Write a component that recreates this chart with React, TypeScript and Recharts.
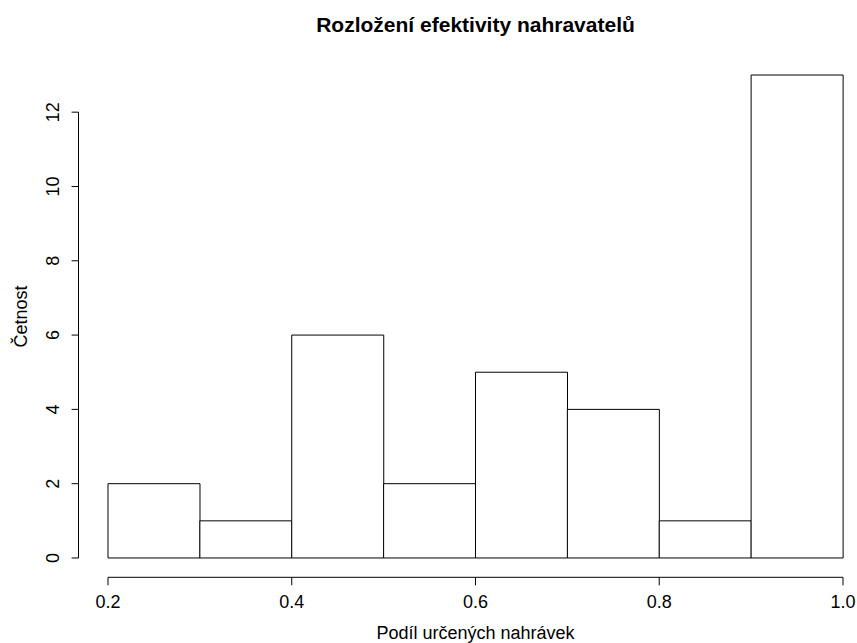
import React from 'react';
import { ComposedChart, Bar, XAxis, YAxis, ReferenceLine } from 'recharts';

// Histogram bins: midpoints and counts
const binMids = [0.25, 0.35, 0.45, 0.55, 0.65, 0.75, 0.85, 0.95];
const counts = [2, 1, 6, 2, 5, 4, 1, 13];
const xTicks = [0.2, 0.4, 0.6, 0.8, 1.0];
const yTicks = [0, 2, 4, 6, 8, 10, 12];

const title = 'Rozložení efektivity nahravatelů';
const xLabel = 'Podíl určených nahrávek';
const yLabel = 'Četnost';

const data = binMids.map((m, i) => ({ bin: String(i), mid: m, count: counts[i] }));

const FONT = '"Liberation Sans", Arial, Helvetica, sans-serif';
const X_DOMAIN: [number, number] = [0.168, 1.032];
const Y_DOMAIN: [number, number] = [-0.52, 13.52];
const MARGIN = { top: 55.7, right: 0, bottom: 35.7, left: 0 };
const CHART_H = 643;
const X_AXIS_H = 30;
const Y_AXIS_W = 78.6;
const PLOT_H = CHART_H - MARGIN.top - MARGIN.bottom - X_AXIS_H;
const PX_PER_UNIT = PLOT_H / (Y_DOMAIN[1] - Y_DOMAIN[0]);
// R draws the y axis line only between the first and last tick
const Y_LINE_TOP = MARGIN.top + (Y_DOMAIN[1] - yTicks[yTicks.length - 1]) * PX_PER_UNIT;
const Y_LINE_BOTTOM = MARGIN.top + (Y_DOMAIN[1] - yTicks[0]) * PX_PER_UNIT;

const YTick = (props: any) => {
  const { x, y, payload } = props;
  return (
    <text
      x={x}
      y={y}
      transform={`rotate(-90, ${x}, ${y})`}
      textAnchor="middle"
      fontSize={18}
      fontFamily={FONT}
      fill="#000"
    >
      {payload.value}
    </text>
  );
};

const XTick = (props: any) => {
  const { x, y, payload } = props;
  return (
    <text x={x} y={y} dy="0.71em" textAnchor="middle" fontSize={18} fontFamily={FONT} fill="#000">
      {Number(payload.value).toFixed(1)}
    </text>
  );
};

export default function App() {
  return (
    <div
      style={{
        position: 'fixed',
        left: 0,
        top: 0,
        width: 857,
        height: 643,
        overflow: 'hidden',
        background: '#fff',
      }}
    >
      <ComposedChart
        width={872.4}
        height={CHART_H}
        data={data}
        margin={MARGIN}
        barCategoryGap={0}
        barGap={0}
      >
        <XAxis
          xAxisId="bins"
          dataKey="bin"
          hide
          height={0}
          padding={{ left: 29.4, right: 29.4 }}
        />
        <XAxis
          xAxisId="num"
          dataKey="mid"
          type="number"
          scale="linear"
          domain={X_DOMAIN}
          allowDataOverflow
          ticks={xTicks}
          interval={0}
          height={X_AXIS_H}
          axisLine={false}
          tickLine={{ stroke: '#000', strokeWidth: 1 }}
          tickSize={8}
          tickMargin={10}
          tick={<XTick />}
        />
        <YAxis
          type="number"
          domain={Y_DOMAIN}
          allowDataOverflow
          ticks={yTicks}
          interval={0}
          width={Y_AXIS_W}
          axisLine={false}
          tickLine={{ stroke: '#000', strokeWidth: 1 }}
          tickSize={7}
          tickMargin={13}
          tick={<YTick />}
        />
        <Bar
          xAxisId="bins"
          dataKey="count"
          fill="#fff"
          stroke="#000"
          strokeWidth={1}
          isAnimationActive={false}
        />
        <ReferenceLine
          xAxisId="num"
          ifOverflow="visible"
          segment={[
            { x: xTicks[0], y: Y_DOMAIN[0] },
            { x: xTicks[xTicks.length - 1], y: Y_DOMAIN[0] },
          ]}
          stroke="#000"
          strokeWidth={1}
        />
      </ComposedChart>
      <svg
        width={857}
        height={643}
        style={{ position: 'absolute', left: 0, top: 0, pointerEvents: 'none' }}
      >
        <line
          x1={Y_AXIS_W - 0.1}
          y1={Y_LINE_TOP}
          x2={Y_AXIS_W - 0.1}
          y2={Y_LINE_BOTTOM}
          stroke="#000"
          strokeWidth={1}
        />
        <text x={475.5} y={31.5} textAnchor="middle" fontSize={21} fontWeight="bold" fontFamily={FONT} fill="#000">
          {title}
        </text>
        <text x={475.5} y={638.5} textAnchor="middle" fontSize={18} fontFamily={FONT} fill="#000">
          {xLabel}
        </text>
        <text
          x={26.5}
          y={316.5}
          transform="rotate(-90, 26.5, 316.5)"
          textAnchor="middle"
          fontSize={18}
          fontFamily={FONT}
          fill="#000"
        >
          {yLabel}
        </text>
      </svg>
    </div>
  );
}
